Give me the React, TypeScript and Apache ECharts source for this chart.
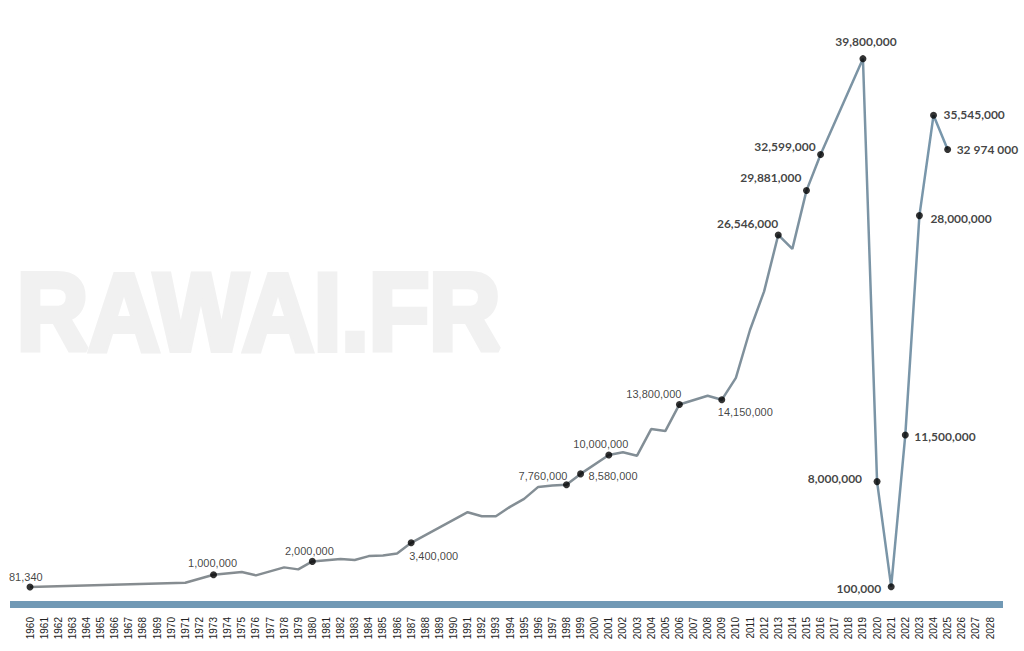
import React, { useEffect, useRef } from "react";
import * as echarts from "echarts";

// Years and visitor counts
const years = [
  1960, 1971, 1973, 1975, 1976, 1978, 1979, 1980, 1982, 1983, 1984, 1985, 1986, 1987,
  1991, 1992, 1993, 1994, 1995, 1996, 1997, 1998, 1999, 2001, 2002, 2003, 2004, 2005,
  2006, 2008, 2009, 2010, 2011, 2012, 2013, 2014, 2015, 2016, 2019, 2020, 2021, 2022,
  2023, 2024, 2025,
];
const visitors = [
  81340, 400000, 1000000, 1200000, 950000, 1550000, 1400000, 2000000, 2180000, 2100000,
  2400000, 2450000, 2600000, 3400000, 5700000, 5400000, 5400000, 6100000, 6700000,
  7600000, 7700000, 7760000, 8580000, 10000000, 10200000, 9950000, 11950000, 11800000,
  13800000, 14450000, 14150000, 15800000, 19400000, 22300000, 26546000, 25500000,
  29881000, 32599000, 39800000, 8000000, 100000, 11500000, 28000000, 35545000, 32974000,
];

// Labelled points
const labelYears = [
  1960, 1973, 1980, 1987, 1998, 1999, 2001, 2006, 2009, 2013, 2015, 2016, 2019, 2020,
  2021, 2022, 2023, 2024, 2025,
];
const labelTexts = [
  "81,340", "1,000,000", "2,000,000", "3,400,000", "7,760,000", "8,580,000", "10,000,000",
  "13,800,000", "14,150,000", "26,546,000", "29,881,000", "32,599,000", "39,800,000",
  "8,000,000", "100,000", "11,500,000", "28,000,000", "35,545,000", "32 974 000",
];

// Axis range
const yearMin = 1960;
const yearMax = 2028;
const valueMax = 40000000;

// Label placement (style only)
const labelPlacement: Record<number, { align: string; offset: [number, number] }> = {
  1960: { align: "left", offset: [-21, -10] },
  1973: { align: "center", offset: [-1, -12] },
  1980: { align: "center", offset: [-3, -10] },
  1987: { align: "left", offset: [-2, 13] },
  1998: { align: "right", offset: [1, -9] },
  1999: { align: "left", offset: [8, 2] },
  2001: { align: "center", offset: [-8, -11] },
  2006: { align: "right", offset: [2, -10] },
  2009: { align: "left", offset: [-4, 12] },
  2013: { align: "right", offset: [0, -11] },
  2015: { align: "right", offset: [-5, -13] },
  2016: { align: "right", offset: [-5, -8] },
  2019: { align: "center", offset: [3, -17] },
  2020: { align: "right", offset: [-15, -3] },
  2021: { align: "right", offset: [-10, 2] },
  2022: { align: "left", offset: [9, 1] },
  2023: { align: "left", offset: [11, 3] },
  2024: { align: "left", offset: [10, -1] },
  2025: { align: "left", offset: [9, 0] },
};

export default function App() {
  const ref = useRef<HTMLDivElement>(null);

  useEffect(() => {
    if (!ref.current) return;
    const chart = echarts.init(ref.current, null, { renderer: "svg" });

    const lineData = years.map((y, i) => [y, visitors[i]]);
    const dotData = labelYears.map((y, i) => {
      const v = visitors[years.indexOf(y)];
      const p = labelPlacement[y];
      const late = y >= 2013;
      return {
        value: [y, v],
        label: {
          show: true,
          formatter: labelTexts[i],
          position: "inside",
          align: p.align,
          verticalAlign: "middle",
          offset: p.offset,
          color: "#111111",
          textBorderWidth: 0,
          textBorderColor: "transparent",
          fontSize: late ? 12 : 11,
          fontWeight: late ? "bold" : "normal",
          fontFamily: late ? "Lato" : "Liberation Sans, Arial, sans-serif",
        },
      };
    });

    chart.setOption({
      animation: false,
      backgroundColor: "#ffffff",
      graphic: [
        {
          type: "text",
          left: 14,
          top: 254,
          z: 0,
          silent: true,
          scaleX: 0.9,
          style: {
            text: "RAWAI.FR",
            fontSize: 110,
            fontWeight: "bold",
            fontFamily: "Liberation Sans, Arial, sans-serif",
            fill: "#f1f1f1",
            stroke: "#f1f1f1",
            lineWidth: 6,
          },
        },
        {
          type: "rect",
          z: 0,
          silent: true,
          shape: { x: 10, y: 601, width: 993, height: 7 },
          style: { fill: "#7199b5" },
        },
      ],
      grid: { left: 30, right: 34, top: 56, bottom: 63 },
      xAxis: {
        type: "value",
        min: yearMin,
        max: yearMax,
        interval: 1,
        axisLine: { show: false },
        axisTick: { show: false },
        splitLine: { show: false },
        axisLabel: {
          rotate: 90,
          margin: 29,
          fontSize: 10,
          color: "#222",
          fontFamily: "Liberation Sans, Arial, sans-serif",
          formatter: (v: number) => String(v),
        },
      },
      yAxis: {
        type: "value",
        min: 0,
        max: valueMax,
        show: false,
        splitLine: { show: false },
      },
      series: [
        {
          type: "line",
          data: lineData,
          symbol: "none",
          z: 2,
          lineStyle: {
            width: 2.5,
            color: new echarts.graphic.LinearGradient(0, 0, 1, 0, [
              { offset: 0, color: "#878c8f" },
              { offset: 0.7, color: "#828e96" },
              { offset: 1, color: "#7897ac" },
            ]),
          },
        },
        {
          type: "scatter",
          data: dotData,
          symbol: "circle",
          symbolSize: 7,
          z: 3,
          itemStyle: { color: "#000" },
        },
      ],
    });

    return () => chart.dispose();
  }, []);

  return (
    <div
      ref={ref}
      style={{ position: "fixed", left: 0, top: 0, width: 1024, height: 651, background: "#fff" }}
    />
  );
}
